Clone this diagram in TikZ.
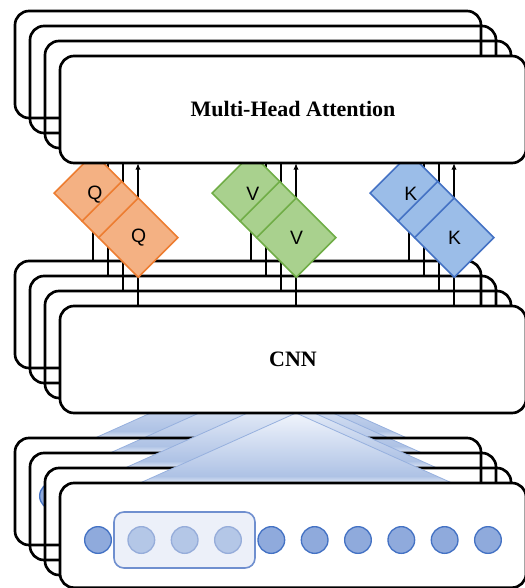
\documentclass[tikz,border=0pt]{standalone}
\usepackage{fontspec}
\setmainfont{Liberation Serif}
\newfontfamily\sansf{Liberation Sans}
\usetikzlibrary{arrows.meta,calc}
\definecolor{qfill}{RGB}{244,177,131}
\definecolor{qline}{RGB}{237,125,49}
\definecolor{vfill}{RGB}{169,209,142}
\definecolor{vline}{RGB}{112,173,71}
\definecolor{kfill}{RGB}{155,189,232}
\definecolor{kline}{RGB}{68,114,196}
\definecolor{dotfill}{RGB}{143,170,220}
\definecolor{dotline}{RGB}{68,114,196}
\definecolor{ldotfill}{RGB}{180,199,231}
\definecolor{ldotline}{RGB}{150,173,218}
\definecolor{boxfill}{RGB}{236,240,249}
\definecolor{boxline}{RGB}{111,143,207}
\definecolor{triTop}{RGB}{236,241,250}
\definecolor{triMid}{RGB}{174,194,229}
\definecolor{triBot}{RGB}{226,233,246}
\definecolor{triEdge}{RGB}{150,176,222}
\pgfdeclareverticalshading{trishade}{100bp}{color(0bp)=(triBot); color(25bp)=(triBot); color(30bp)=(triMid); color(72bp)=(triTop); color(100bp)=(triTop)}
\pgfdeclarelayer{lowest}
\pgfdeclarelayer{wires}
\pgfdeclarelayer{blocks}
\pgfsetlayers{lowest,wires,blocks,main}
\begin{document}
\begin{tikzpicture}[x=0.75pt,y=-0.75pt,
  layer/.style={draw=black, line width=2pt, rounded corners=10.5pt,
    minimum width=349.5pt, minimum height=80.25pt, anchor=north west,
    inner sep=0pt, outer sep=0pt},
  frontlayer/.style={layer, fill=white},
  title/.style={font=\fontsize{16.5}{18}\selectfont\bfseries},
  feed/.style={line width=1.2pt, -{Latex[length=5pt,width=4pt]}},
  block/.style={draw, line width=1.2pt, rotate=-45, minimum width=89.25pt,
    minimum height=42pt, inner sep=0pt},
  blocklabel/.style={font=\sansf\fontsize{14.5}{16}\selectfont, inner sep=0pt},
  dot/.style={circle, draw=dotline, fill=dotfill, line width=1pt,
    minimum size=20pt, inner sep=0pt},
  ldot/.style={dot, draw=ldotline, fill=ldotfill},
  fan/.style={shading=trishade},
  fanedge/.style={draw=triEdge, line width=0.6pt}]
\useasboundingbox (0,0) rectangle (524,588);

\begin{pgfonlayer}{lowest}
  % ---- input stack with fans ----
  \foreach \k in {1,2}{
    \pgfmathsetmacro\d{15*(4-\k)}
    \shade[fan] (296-\d,413-\d) -- (452-\d,483-\d) -- (140-\d,483-\d) -- cycle;
    \draw[fanedge] (140-\d,483-\d) -- (296-\d,413-\d) -- (452-\d,483-\d);
  }
  \node[layer] (in1) at (15,438) {};
  \node[layer] (in2) at (30,453) {};
  \begin{scope}
    \clip (28,470) rectangle (45.5,520);
    \node[dot] (ghost) at (53,496) {};
  \end{scope}
  \pgfmathsetmacro\d{15}
  \shade[fan] (296-\d,413-\d) -- (452-\d,483-\d) -- (140-\d,483-\d) -- cycle;
  \draw[fanedge] (140-\d,483-\d) -- (296-\d,413-\d) -- (452-\d,483-\d);
  \node[layer] (in3) at (45,468) {};
  \shade[fan] (296,413) -- (452,483) -- (140,483) -- cycle;
  \draw[fanedge] (140,483) -- (296,413) -- (452,483);
  \node[frontlayer, minimum height=78.5pt] (in4) at (60,483) {};
  \node[draw=boxline, fill=boxfill, line width=1.2pt, rounded corners=7.5pt,
        minimum width=105.75pt, minimum height=42pt, inner sep=0pt] (win) at (184.5,540) {};
  \foreach \i in {0,...,9}{
    \ifnum\i>0 \ifnum\i<4
      \node[ldot] (d\i) at (98+43.33*\i,540) {};
    \else
      \node[dot] (d\i) at (98+43.33*\i,540) {};
    \fi\else
      \node[dot] (d\i) at (98+43.33*\i,540) {};
    \fi
  }
  % ---- CNN stack ----
  \node[layer] (c1) at (15,261) {};
  \node[layer] (c2) at (30,276) {};
  \node[layer] (c3) at (45,291) {};
  \node[frontlayer, title] (c4) at (60,306) {CNN};
\end{pgfonlayer}

% ---- Multi-head attention stack ----
\node[layer] (m1) at (15,11) {};
\node[layer] (m2) at (30,26) {};
\node[layer] (m3) at (45,41) {};
\node[frontlayer, title] (m4) at (60,56) {Multi-Head Attention};

% ---- feed lines ----
\begin{pgfonlayer}{wires}
  \foreach \g in {0,1,2}{
    \foreach \k in {1,2,3,4}{
      \coordinate (col-\g-\k) at (93+15*\k-15+158*\g,0);
      \draw[feed] (c\k.north -| col-\g-\k) -- (m\k.south -| col-\g-\k);
    }
  }
\end{pgfonlayer}

% ---- Q / V / K projections ----
\begin{pgfonlayer}{blocks}
  \foreach \nm/\lab/\xx/\fc/\lc in {qb/Q/116/qfill/qline, vb/V/274/vfill/vline, kb/K/432/kfill/kline}{
    \node[block, draw=\lc, fill=\fc] (\nm) at (\xx,215.3) {};
    \draw[\lc, line width=1.2pt] ($(\nm.north west)!40/119!(\nm.north east)$) -- ($(\nm.south west)!40/119!(\nm.south east)$);
    \draw[\lc, line width=1.2pt] ($(\nm.north west)!63/119!(\nm.north east)$) -- ($(\nm.south west)!63/119!(\nm.south east)$);
    \node[blocklabel] (\nm-a) at ($(\nm.west)!0.252!(\nm.east)$) {\lab};
    \node[blocklabel] (\nm-b) at ($(\nm.west)!0.765!(\nm.east)$) {\lab};
  }
\end{pgfonlayer}
\end{tikzpicture}
\end{document}
